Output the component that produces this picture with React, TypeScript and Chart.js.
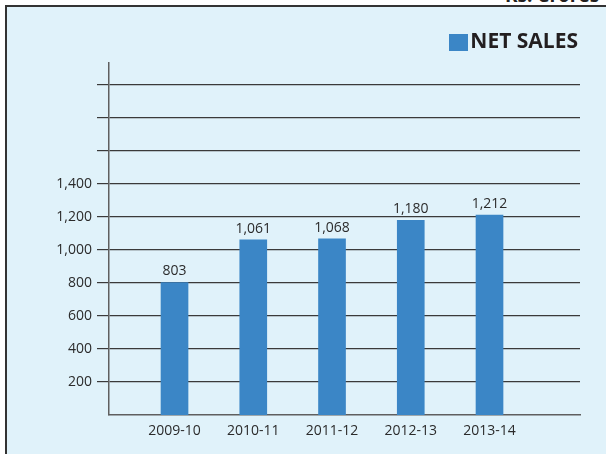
import React, { useEffect, useRef } from 'react';
import { Chart, registerables } from 'chart.js';

Chart.register(...registerables);

const categories = ['2009-10', '2010-11', '2011-12', '2012-13', '2013-14'];
const netSales = [803, 1061, 1068, 1180, 1212];
const yTicks = [200, 400, 600, 800, 1000, 1200, 1400, 1600, 1800, 2000];
const yLabelMax = 1400;
const seriesName = 'NET SALES';
const unitText = 'Rs. Crores';

const BAR = '#3B86C6';
const TEXT = '#2b2b2b';
const FONT = "'Open Sans', sans-serif";

export default function App() {
  const ref = useRef<HTMLCanvasElement>(null);

  useEffect(() => {
    const canvas = ref.current!;
    const swatch = document.createElement('canvas');
    swatch.width = 19;
    swatch.height = 17;
    const sctx = swatch.getContext('2d')!;
    sctx.fillStyle = BAR;
    sctx.fillRect(0, 0, 19, 17);

    const valueLabels = {
      id: 'valueLabels',
      afterDatasetsDraw(chart: any) {
        const { ctx } = chart;
        const meta = chart.getDatasetMeta(0);
        ctx.save();
        ctx.font = `14px ${FONT}`;
        ctx.fillStyle = TEXT;
        ctx.textAlign = 'center';
        ctx.textBaseline = 'alphabetic';
        meta.data.forEach((el: any, i: number) => {
          ctx.fillText(netSales[i].toLocaleString('en-US'), el.x, el.y - 7);
        });
        ctx.restore();
      },
    };

    const chart = new Chart(canvas, {
      type: 'bar',
      data: {
        datasets: [
          {
            label: seriesName,
            data: netSales.map((v, i) => ({ x: i, y: v })) as any,
            backgroundColor: BAR,
            borderWidth: 0,
            barThickness: 27,
          },
        ],
      },
      options: {
        animation: false,
        responsive: true,
        maintainAspectRatio: false,
        layout: { padding: { top: 26, right: 26, bottom: 0, left: 0 } },
        plugins: {
          legend: {
            position: 'top',
            align: 'end',
            fullSize: false,
            labels: {
              usePointStyle: true,
              pointStyle: swatch as any,
              boxWidth: 3,
              padding: 2,
              color: '#231F20',
              font: { family: FONT, size: 21, weight: 'bold' },
            },
          },
          tooltip: { enabled: false },
        },
        scales: {
          x: {
            type: 'linear',
            offset: false,
            min: -0.832,
            max: 5.149,
            afterBuildTicks: (s: any) => {
              s.ticks = categories.map((_, i) => ({ value: i }));
            },
            afterFit: (s: any) => {
              s.height = 39;
            },
            grid: { display: false, drawTicks: false, tickLength: 0 },
            border: { display: true, color: '#5f5f5f', width: 1.5 },
            ticks: {
              callback: (v: any) => categories[v] ?? '',
              color: TEXT,
              font: { family: FONT, size: 14 },
              padding: 8,
              maxRotation: 0,
              autoSkip: false,
            },
          },
          y: {
            min: 0,
            max: 2133,
            afterBuildTicks: (s: any) => {
              s.ticks = yTicks.map((v) => ({ value: v }));
            },
            afterFit: (s: any) => {
              s.width = 109;
              s.paddingTop = 63;
            },
            grid: { color: '#3a3a3a', lineWidth: 1.2, drawTicks: true, tickLength: 12 },
            border: { display: true, color: '#5f5f5f', width: 1.5 },
            ticks: {
              callback: (v: any) => (v <= yLabelMax ? Number(v).toLocaleString('en-US') : ''),
              color: TEXT,
              font: { family: FONT, size: 14 },
              padding: 5,
            },
          },
        },
      },
      plugins: [valueLabels],
    });

    return () => chart.destroy();
  }, []);

  return (
    <div
      style={{
        position: 'absolute',
        left: 0,
        top: 0,
        width: 606,
        height: 454,
        overflow: 'hidden',
        background: '#ffffff',
      }}
    >
      <div
        style={{
          position: 'absolute',
          left: 505,
          top: -14,
          font: `bold 19px ${FONT}`,
          lineHeight: '19px',
          color: '#231F20',
          whiteSpace: 'nowrap',
        }}
      >
        {unitText}
      </div>
      <div
        style={{
          position: 'absolute',
          left: 5,
          top: 5,
          width: 601,
          height: 449,
          boxSizing: 'border-box',
          background: '#E0F2FA',
          borderTop: '2px solid #333',
          borderLeft: '2px solid #333',
        }}
      />
      <div style={{ position: 'absolute', left: 0, top: 0, width: 606, height: 454 }}>
        <canvas ref={ref} />
      </div>
    </div>
  );
}
